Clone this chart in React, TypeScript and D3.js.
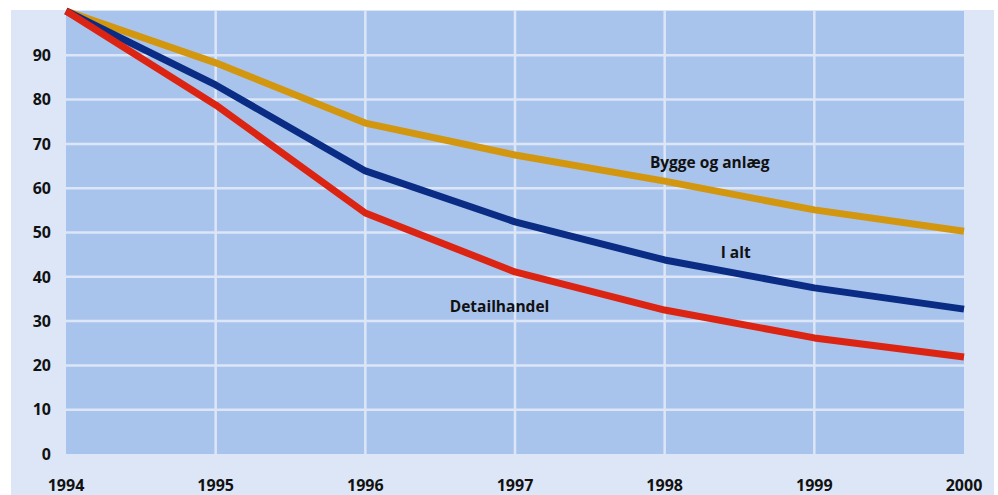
import React from "react";
import * as d3 from "d3";

const years = [1994, 1995, 1996, 1997, 1998, 1999, 2000];
const byggeOgAnlaeg = [100, 88.3, 74.7, 67.5, 61.6, 55.1, 50.3];
const iAlt = [100, 83.3, 63.9, 52.4, 43.8, 37.5, 32.7];
const detailhandel = [100, 78.8, 54.4, 41.1, 32.5, 26.2, 21.9];
const yTicks = [0, 10, 20, 30, 40, 50, 60, 70, 80, 90];

const series = [
  { name: "Bygge og anlæg", values: byggeOgAnlaeg, color: "#d3960f", label: { year: 1998, value: 64.6, dx: 45 } },
  { name: "I alt", values: iAlt, color: "#0a2c84", label: { year: 1998, value: 44.2, dx: 71 } },
  { name: "Detailhandel", values: detailhandel, color: "#dc2412", label: { year: 1997, value: 32.1, dx: -15.5 } },
];

export default function App() {
  const W = 998, H = 495;
  const left = 66, right = 964, top = 11, bottom = 454;
  const x = d3.scaleLinear().domain([1994, 2000]).range([left, right]);
  const y = d3.scaleLinear().domain([0, 100]).range([bottom, top]);
  const line = d3.line<number>().x((_, i) => x(years[i])).y((d) => y(d));
  const font = "'Open Sans', sans-serif";
  return (
    <svg width={W} height={H} style={{ position: "absolute", left: 0, top: 0, display: "block" }}>
      <rect x={0} y={0} width={W} height={H} fill="#ffffff" />
      <rect x={11} y={10} width={983} height={485} fill="#dde6f7" />
      <rect x={left} y={top} width={right - left} height={bottom - top} fill="#a8c4ec" />
      {yTicks.slice(1).map((t) => (
        <line key={"h" + t} x1={left} x2={right} y1={y(t)} y2={y(t)} stroke="#dde6f7" strokeWidth={2.5} />
      ))}
      {years.slice(1, -1).map((yr) => (
        <line key={"v" + yr} x1={x(yr)} x2={x(yr)} y1={top} y2={bottom} stroke="#dde6f7" strokeWidth={2.5} />
      ))}
      {series.map((s) => (
        <path key={s.name} d={line(s.values) || ""} fill="none" stroke={s.color} strokeWidth={7} strokeLinejoin="round" />
      ))}
      {yTicks.map((t) => (
        <text key={"yl" + t} x={51} y={y(t)} dy="0.36em" textAnchor="end" fontFamily={font} fontWeight={700} fontSize={16} fill="#111">
          {t}
        </text>
      ))}
      {years.map((yr) => (
        <text key={"xl" + yr} x={x(yr)} y={491} textAnchor="middle" fontFamily={font} fontWeight={700} fontSize={16} fill="#111">
          {yr}
        </text>
      ))}
      {series.map((s) => (
        <text key={"lab" + s.name} x={x(s.label.year) + s.label.dx} y={y(s.label.value)} textAnchor="middle" fontFamily={font} fontWeight={700} fontSize={15.5} fill="#111">
          {s.name}
        </text>
      ))}
    </svg>
  );
}
